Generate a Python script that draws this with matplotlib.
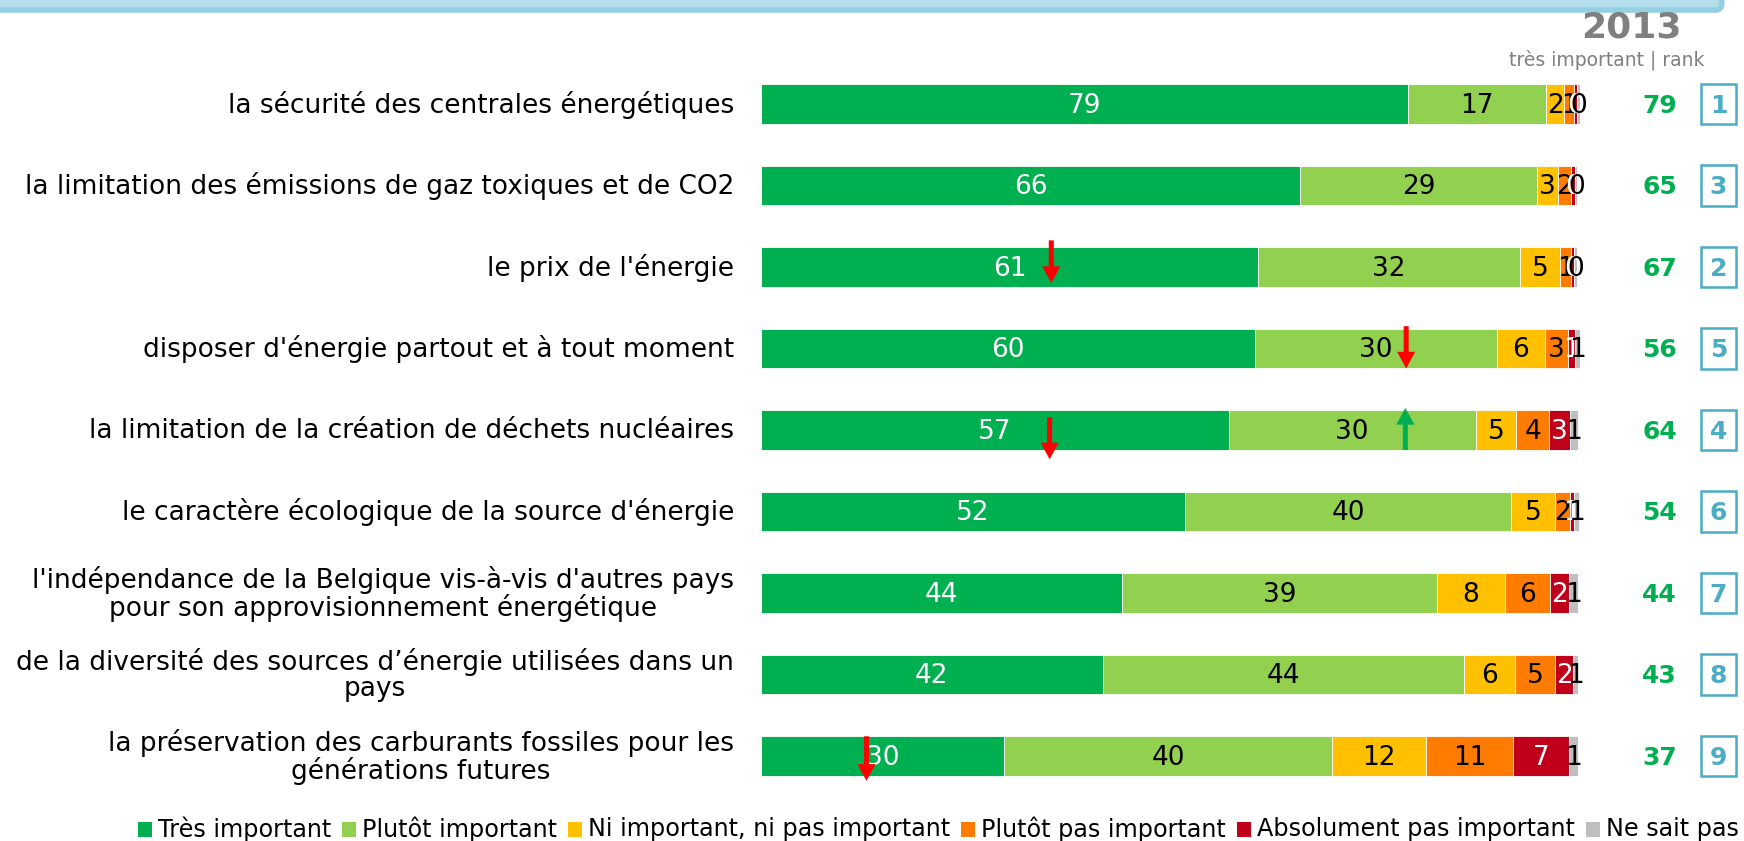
import matplotlib
matplotlib.use("Agg")
import matplotlib.pyplot as plt
from matplotlib.patches import Rectangle, FancyBboxPatch

# --- data -------------------------------------------------------------------
categories = [
    "la sécurité des centrales énergétiques",
    "la limitation des émissions de gaz toxiques et de CO2",
    "le prix de l'énergie",
    "disposer d'énergie partout et à tout moment",
    "la limitation de la création de déchets nucléaires",
    "le caractère écologique de la source d'énergie",
    "l'indépendance de la Belgique vis-à-vis d'autres pays\npour son approvisionnement énergétique",
    "de la diversité des sources d’énergie utilisées dans un\npays",
    "la préservation des carburants fossiles pour les\ngénérations futures",
]
tres_important = [79.1, 65.9, 60.8, 60.4, 57.2, 51.85, 44.1, 41.8, 29.75]
plutot_important = [16.9, 29.0, 32.0, 29.6, 30.2, 39.9, 38.6, 44.2, 40.1]
ni_ni = [2.24, 2.6, 4.9, 5.87, 4.94, 5.3, 8.28, 6.25, 11.5]
plutot_pas = [1.15, 1.6, 1.3, 2.77, 4.07, 1.83, 5.54, 4.9, 10.6]
absolument_pas = [0.4, 0.45, 0.45, 0.93, 2.53, 0.6, 2.32, 2.16, 6.85]
ne_sait_pas = [0.33, 0.3, 0.4, 0.57, 0.94, 0.6, 1.06, 0.6, 1.1]

series_names = ["Très important", "Plutôt important",
                "Ni important, ni pas important", "Plutôt pas important",
                "Absolument pas important", "Ne sait pas"]

score_2013 = [79, 65, 67, 56, 64, 54, 44, 43, 37]
rank_2013 = [1, 3, 2, 5, 4, 6, 7, 8, 9]

# change markers: row, position on bar, direction
arrow_rows = [2, 3, 4, 4, 8]
arrow_x = [35.5, 78.9, 35.3, 78.8, 12.9]
arrow_up = [False, False, False, True, False]
arrow_top_px = [-26.7, -22.3, -12.7, -22.0, -19.7]
arrow_bot_px = [16.0, 20.0, 29.3, 20.0, 24.8]

# --- style ------------------------------------------------------------------
colors = ["#00B050", "#92D050", "#FFC000", "#FF7C00", "#C0001A", "#BFBFBF"]
text_colors = ["white", "black", "black", "black", "white", "black"]
BLUE = "#4BACC6"
GREY = "#7F7F7F"

W, H = 1744, 841
ROW_PX = 81.5
plt.rcParams["font.family"] = "DejaVu Sans"

fig = plt.figure(figsize=(W / 100, H / 100), dpi=100)
fig.patch.set_facecolor("white")

ax = fig.add_axes([761 / W, 1 - 796.75 / H, 817.7 / W, 733.5 / H])
ax.set_xlim(0, 100)
ax.set_ylim(8.5, -0.5)
ax.axis("off")

rows = list(range(len(categories)))
all_series = [tres_important, plutot_important, ni_ni, plutot_pas,
              absolument_pas, ne_sait_pas]

left = [0.0] * len(rows)
for vals, col, tcol in zip(all_series, colors, text_colors):
    ax.barh(rows, vals, left=left, height=0.49, color=col,
            edgecolor="white", linewidth=0.6, clip_on=False)
    for i, v in enumerate(vals):
        ax.text(left[i] + v / 2, i + 0.02, f"{round(v)}", ha="center",
                va="center", fontsize=19, color=tcol)
    left = [a + b for a, b in zip(left, vals)]

# category labels
for i, lab in enumerate(categories):
    ax.text(-3.3, i + 0.01, lab, ha="right", va="center",
            multialignment="center", fontsize=19, color="black",
            linespacing=1.0)

# 2013 column
for i, (s, r) in enumerate(zip(score_2013, rank_2013)):
    ax.text(112.0, i + 0.02, str(s), ha="right", va="center", fontsize=18,
            fontweight="bold", color="#00B050")
    ax.add_patch(Rectangle((117.1 - 2.16, i - 0.25), 4.32, 0.5, fill=False,
                           edgecolor=BLUE, linewidth=1.8, clip_on=False))
    ax.text(117.1, i + 0.02, str(r), ha="center", va="center", fontsize=18,
            fontweight="bold", color=BLUE)

# arrows
for r, x, up, t, b in zip(arrow_rows, arrow_x, arrow_up,
                          arrow_top_px, arrow_bot_px):
    top = r + t / ROW_PX
    bot = r + b / ROW_PX
    col = "#00B050" if up else "#FF0000"
    tip, tail = (top, bot) if up else (bot, top)
    ax.annotate("", xy=(x, tip), xytext=(x, tail),
                arrowprops=dict(arrowstyle="simple,head_length=12,head_width=13,tail_width=3.6",
                                mutation_scale=1, color=col, lw=0,
                                shrinkA=0, shrinkB=0))

# overlay in pixel coords for header / legend
ov = fig.add_axes([0, 0, 1, 1])
ov.set_xlim(0, W)
ov.set_ylim(H, 0)
ov.axis("off")

ov.add_patch(FancyBboxPatch((-30, -40), 1751.7, 50,
                            boxstyle="round,pad=0,rounding_size=6",
                            facecolor="#B3E0EC", edgecolor="#92D0E2",
                            linewidth=4))
ov.text(1631, 27, "2013", ha="center", va="center", fontsize=26,
        fontweight="bold", color=GREY)
ov.text(1704, 60, "très important | rank", ha="right", va="center",
        fontsize=13.5, color=GREY)

renderer = fig.canvas.get_renderer()
x = 138
ly = 829
for name, col in zip(series_names, colors):
    ov.add_patch(Rectangle((x, ly - 7.5), 14, 15, facecolor=col,
                           edgecolor="none"))
    t = ov.text(x + 20, ly, name, ha="left", va="center", fontsize=17.2,
                color="black")
    w = t.get_window_extent(renderer).width
    x = x + 20 + w + 11

fig.savefig("out.png", dpi=100)
